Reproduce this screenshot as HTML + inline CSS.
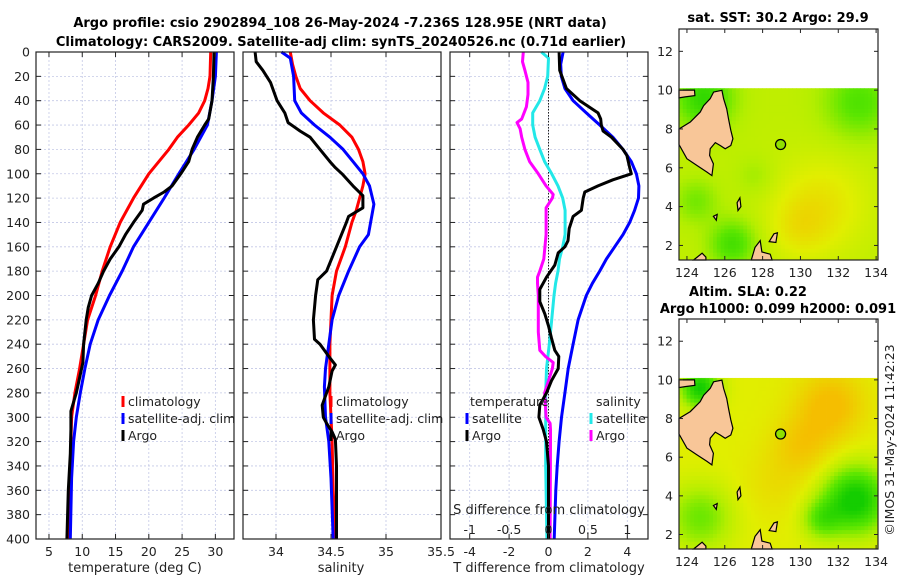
<!DOCTYPE html>
<html><head><meta charset="utf-8"><style>
body{margin:0;background:#fff;}
svg{display:block;font-family:"DejaVu Sans","Liberation Sans",sans-serif;}
</style></head><body>
<svg id="c" width="900" height="580" viewBox="0 0 900 580"></svg>
<script>
// ---- data ----
const depthT=[0,20,30,40,50,60,70,80,100,120,140,160,180,200,220,240,260,280,300,320,350,400];
const tempClim=[29.3,29.2,28.9,28.4,27.5,26,24.3,23,20,17.7,15.7,14.2,13,12,10.8,10.2,9.6,8.9,8.4,8.3,8.2,7.9];
const depthTB=[0,20,40,60,80,100,120,140,160,180,200,220,240,260,280,300,320,350,400];
const tempSat=[30.15,30,29.5,28.8,26.8,24.5,22.3,20,17.7,16,14.1,12.4,11.2,10.4,9.7,9.1,8.7,8.4,8.2];
const depthTA=[0,20,40,55,60,70,80,90,100,110,115,120,125,130,140,150,160,170,180,190,200,210,220,240,255,265,280,295,310,330,360,400];
const tempArgo=[29.8,29.7,29.5,29,28.4,27.3,26.5,26,24.8,23.5,22.3,20.7,19.2,19,17.7,16.5,15.5,14.2,13.2,12.4,11.4,10.9,10.6,10.2,10.1,9.7,9.1,8.3,8.3,8.2,7.9,7.7];
const depthSC=[0,10,20,30,40,50,60,70,80,90,100,110,120,130,140,160,180,200,240,280,300,320,360,400];
const salClim=[34.13,34.15,34.18,34.22,34.31,34.43,34.58,34.69,34.75,34.79,34.81,34.79,34.76,34.73,34.69,34.63,34.55,34.51,34.49,34.49,34.5,34.51,34.52,34.54];
const depthSB=[0,5,10,20,40,50,60,70,80,90,100,110,125,150,160,180,200,220,240,260,275,300,320,350,400];
const salSat=[34.05,34.13,34.14,34.16,34.17,34.23,34.35,34.49,34.61,34.7,34.79,34.85,34.89,34.84,34.76,34.66,34.57,34.51,34.48,34.45,34.44,34.45,34.48,34.5,34.52];
const depthSA=[0,8,15,25,40,50,58,65,70,80,90,95,100,110,118,128,135,140,160,180,187,200,220,236,240,250,257,262,275,290,300,305,312,318,340,360,400];
const salArgo=[33.81,33.82,33.88,33.95,34.01,34.08,34.11,34.22,34.31,34.4,34.49,34.54,34.6,34.7,34.79,34.79,34.66,34.64,34.55,34.46,34.38,34.36,34.34,34.35,34.4,34.48,34.54,34.51,34.48,34.42,34.43,34.46,34.51,34.54,34.55,34.55,34.55];
const depthDB=[0,10,20,30,40,50,60,70,80,90,100,110,120,130,140,150,160,170,180,190,200,220,240,260,280,300,320,340,360,400];
const tdiffSat=[0.74,0.62,0.65,0.83,1.25,1.92,2.6,3.27,3.78,4.2,4.46,4.59,4.57,4.37,4.12,3.78,3.36,2.94,2.6,2.23,1.92,1.5,1.25,1.0,0.83,0.66,0.54,0.44,0.37,0.29];
const depthDA=[0,15,30,40,50,55,60,65,70,80,85,95,100,105,110,115,120,130,135,145,155,160,165,175,185,195,205,215,225,235,245,250,260,270,280,290,300,310,320,340,400];
const tdiffArgo=[0.54,0.57,0.91,1.59,2.51,2.65,2.68,2.77,3.19,3.78,3.98,4.12,4.2,3.27,2.51,1.84,1.76,1.67,1.25,1.05,0.99,0.83,0.49,0.32,-0.1,-0.44,-0.44,-0.19,0,0.15,0.32,0.52,0.49,0.15,-0.1,-0.44,-0.49,-0.27,-0.1,0,0];
const depthSD=[0,5,20,30,40,50,60,70,80,90,100,110,120,130,140,150,160,170,180,190,200,220,240,260,280,300,340,400];
const sdiffSat=[-0.09,0,-0.01,-0.05,-0.11,-0.2,-0.2,-0.17,-0.11,-0.05,0.04,0.12,0.18,0.21,0.21,0.21,0.18,0.14,0.12,0.09,0.07,0.04,0.01,-0.025,-0.035,-0.035,-0.035,-0.02];
const depthSDA=[0,8,15,25,35,45,55,58,63,70,80,90,100,110,117,120,128,150,170,180,185,190,200,230,245,250,255,260,270,280,290,300,305,310,320,400];
const sdiffArgo=[-0.32,-0.33,-0.3,-0.26,-0.26,-0.28,-0.34,-0.4,-0.36,-0.34,-0.3,-0.24,-0.13,-0.03,0.06,0.05,-0.03,-0.03,-0.06,-0.11,-0.14,-0.14,-0.13,-0.13,-0.11,-0.04,0.06,0.05,0,-0.05,-0.04,-0.03,0.02,0.025,0.025,0.02];
const depthTicks=[0,20,40,60,80,100,120,140,160,180,200,220,240,260,280,300,320,340,360,380,400];
const tempTicks=[5,10,15,20,25,30];
const salTicks=[34,34.5,35,35.5];
const tdTicks=[-4,-2,0,2,4];
const sdTicks=[-1,-0.5,0,0.5,1];
const sdTickLabels=["-1","-0.5","0","0.5","1"];
const latTicks=[2,4,6,8,10,12];
const lonTicks=[124,126,128,130,132,134];
// map field blobs [lon,lat,radius,amplitude]
const sstBlobs=[[124.8,9.5,1.5,-1.0],[133.0,9.3,1.8,-0.7],[126.3,2.0,1.2,-0.8],[124.4,4.2,1.1,-0.45],[131,4,2.4,0.45],[129.8,2.8,1.5,0.3],[127.5,5.5,1.0,-0.2]];
const slaBlobs=[[131.5,8.6,1.8,0.65],[130,6.5,1.6,0.45],[132.8,3.7,1.7,-1.7],[131.0,2.7,1.0,-0.8],[124.6,9.5,1.0,-1.6],[124.6,2.8,1.7,-0.8],[128.5,4.5,1.8,0.2]];
const argoLon=128.95, argoLat=7.2;

// ---- helpers ----
const svg=document.getElementById('c');
const NS='http://www.w3.org/2000/svg';
function mk(tag,attrs,parent,txt){const e=document.createElementNS(NS,tag);for(const k in attrs)e.setAttribute(k,attrs[k]);if(txt!==undefined)e.textContent=txt;(parent||svg).appendChild(e);return e;}
const Y0=52,Y1=539;
const yD=d=>Y0+d*(Y1-Y0)/400;

function panel(name,x0,x1,dmin,dmax,ticks){
  const g=mk('g',{});
  
  
  const sx=v=>x0+(v-dmin)/(dmax-dmin)*(x1-x0);
  depthTicks.forEach(d=>{if(d>0&&d<400)mk('line',{x1:x0,x2:x1,y1:yD(d),y2:yD(d),stroke:'#c3c8e6','stroke-width':0.8,'stroke-dasharray':'2,2'},g);});
  ticks.forEach(t=>{const x=sx(t);if(x>x0+1&&x<x1-1)mk('line',{x1:x,x2:x,y1:Y0,y2:Y1,stroke:'#c3c8e6','stroke-width':0.8,'stroke-dasharray':'2,2'},g);});
  return {g,sx};
}
function frame(g,x0,x1,sx,ticks,labels){
  mk('rect',{x:x0,y:Y0,width:x1-x0,height:Y1-Y0,fill:'none',stroke:'#222','stroke-width':1.2},g);
  depthTicks.forEach(d=>{mk('line',{x1:x0,x2:x0+5,y1:yD(d),y2:yD(d),stroke:'#222'},g);mk('line',{x1:x1-5,x2:x1,y1:yD(d),y2:yD(d),stroke:'#222'},g);});
  ticks.forEach((t,i)=>{const x=sx(t);mk('line',{x1:x,x2:x,y1:Y1,y2:Y1-5,stroke:'#222'},g);mk('line',{x1:x,x2:x,y1:Y0,y2:Y0+5,stroke:'#222'},g);
    const tl=mk('text',{x:x,y:Y1+17,'font-size':12.5,'text-anchor':'middle',fill:'#222'},g,labels?labels[i]:String(t));
    });
}
function line(g,name,depths,vals,sx,color){
  const pts=depths.map((d,i)=>sx(vals[i]).toFixed(1)+','+yD(d).toFixed(1)).join(' ');
  const p=mk('polyline',{points:pts,fill:'none',stroke:color,'stroke-width':3,'stroke-linejoin':'round'},g);
  
}
function legendEntry(g,x,y,color,label){
  const e=mk('g',{},g);
  
  mk('line',{x1:x,x2:x,y1:y-10,y2:y+1,stroke:color,'stroke-width':3},e);
  mk('text',{x:x+5,y:y,'font-size':12.5,fill:'#222'},e,label);
}

// titles
let t=mk('text',{x:340,y:27,'font-size':13,'font-weight':'bold','text-anchor':'middle'},svg,'Argo profile: csio 2902894_108 26-May-2024 -7.236S 128.95E (NRT data)');

t=mk('text',{x:341,y:46,'font-size':13,'font-weight':'bold','text-anchor':'middle'},svg,'Climatology: CARS2009. Satellite-adj clim: synTS_20240526.nc (0.71d earlier)');


// depth labels
depthTicks.forEach(d=>{const e=mk('text',{x:30,y:yD(d)+4.5,'font-size':12.5,'text-anchor':'end',fill:'#222'},svg,String(d));
  });

// panel 1: temperature
let P=panel('temperature-panel',36,234,3.05,32.8,tempTicks);
line(P.g,'temp-climatology',depthT,tempClim,P.sx,'#ff0000');
line(P.g,'temp-satellite-adj',depthTB,tempSat,P.sx,'#0000ff');
line(P.g,'temp-argo',depthTA,tempArgo,P.sx,'#000000');
frame(P.g,36,234,P.sx,tempTicks);
legendEntry(P.g,123,406,'#ff0000','climatology');
legendEntry(P.g,123,423,'#0000ff','satellite-adj. clim');
legendEntry(P.g,123,440,'#000000','Argo');
t=mk('text',{x:135,y:572,'font-size':13,'text-anchor':'middle',fill:'#222'},svg,'temperature (deg C)');


// panel 2: salinity
P=panel('salinity-panel',243,441,33.7,35.5,salTicks);
line(P.g,'sal-climatology',depthSC,salClim,P.sx,'#ff0000');
line(P.g,'sal-satellite-adj',depthSB,salSat,P.sx,'#0000ff');
line(P.g,'sal-argo',depthSA,salArgo,P.sx,'#000000');
frame(P.g,243,441,P.sx,salTicks);
legendEntry(P.g,331,406,'#ff0000','climatology');
legendEntry(P.g,331,423,'#0000ff','satellite-adj. clim');
legendEntry(P.g,331,440,'#000000','Argo');
t=mk('text',{x:341,y:572,'font-size':13,'text-anchor':'middle',fill:'#222'},svg,'salinity');


// panel 3: differences
P=panel('difference-panel',450,648,-5,5.05,tdTicks);
const sxS=v=>P.sx(v*4);
mk('line',{x1:P.sx(0),x2:P.sx(0),y1:Y0,y2:Y1,stroke:'#222','stroke-width':1,'stroke-dasharray':'1.5,1.5'},P.g);
line(P.g,'sdiff-satellite',depthSD,sdiffSat,sxS,'#22e8e8');
line(P.g,'sdiff-argo',depthSDA,sdiffArgo,sxS,'#ff00ff');
line(P.g,'tdiff-satellite',depthDB,tdiffSat,P.sx,'#0000ff');
line(P.g,'tdiff-argo',depthDA,tdiffArgo,P.sx,'#000000');
frame(P.g,450,648,P.sx,tdTicks);
sdTicks.forEach((s,i)=>{const e=mk('text',{x:sxS(s),y:534,'font-size':12.5,'text-anchor':'middle',fill:'#222'},P.g,sdTickLabels[i]);
  });
t=mk('text',{x:549,y:514,'font-size':13,'text-anchor':'middle',fill:'#222'},P.g,'S difference from climatology');

t=mk('text',{x:549,y:572,'font-size':13,'text-anchor':'middle',fill:'#222'},svg,'T difference from climatology');

mk('text',{x:470,y:406,'font-size':12.5,fill:'#222'},P.g,'temperature');
mk('text',{x:596,y:406,'font-size':12.5,fill:'#222'},P.g,'salinity');
legendEntry(P.g,467,423,'#0000ff','satellite');
legendEntry(P.g,467,440,'#000000','Argo');
legendEntry(P.g,591,423,'#22e8e8','satellite');
legendEntry(P.g,591,440,'#ff00ff','Argo');

// ---- maps ----
const land=[
 [[125.41,9.9],[125.85,9.99],[125.94,9.56],[126.1,9.04],[126.2,8.5],[126.32,7.93],[126.43,7.5],[126.32,7.15],[126.02,6.98],[125.76,7.15],[125.5,7.3],[125.23,6.98],[125.2,6.64],[125.4,6.2],[125.32,5.6],[125.06,5.78],[124.53,6.12],[124,6.47],[123.58,7.2],[123.58,8.0],[124.18,8.36],[124.7,8.87],[124.88,9.2],[125.23,9.56]],
 [[123.58,10.0],[124.4,10.0],[124.42,9.72],[123.9,9.65],[123.58,9.6]],
 [[127.4,1.25],[127.6,1.9],[127.87,2.25],[127.96,1.66],[128.4,1.55],[128.5,1.25]],
 [[128.35,2.2],[128.6,2.6],[128.78,2.65],[128.7,2.15]],
 [[124.35,1.25],[124.8,1.6],[125.0,1.4],[125.0,1.25]],
 [[126.65,4.2],[126.8,4.45],[126.85,4.0],[126.7,3.8]],
 [[125.4,3.5],[125.6,3.6],[125.55,3.3]]
];
function colFor(v){
  const stops=[[-1.2,[20,205,0]],[-0.5,[90,230,0]],[0,[180,238,0]],[0.4,[225,238,0]],[1,[245,190,0]]];
  if(v<=stops[0][0])return 'rgb('+stops[0][1]+')';
  for(let i=1;i<stops.length;i++){if(v<=stops[i][0]){const a=stops[i-1],b=stops[i],f=(v-a[0])/(b[0]-a[0]);
    return 'rgb('+a[1].map((c,j)=>Math.round(c+(b[1][j]-c)*f)).join(',')+')';}}
  return 'rgb('+stops[stops.length-1][1]+')';
}
function map(name,y0,y1,blobs,base){
  const g=mk('g',{});
  
  const x0=679,x1=878,lo0=123.58,lo1=134.1,la0=1.25,la1=13.15;
  const sx=l=>x0+(l-lo0)/(lo1-lo0)*(x1-x0), sy=l=>y1-(l-la0)/(la1-la0)*(y1-y0);
  const step=0.2;
  for(let la=la0;la<10.1;la+=step){for(let lo=lo0;lo<lo1;lo+=step){
    let v=base;blobs.forEach(b=>{const dd=((lo-b[0])**2+(la-b[1])**2)/(b[2]*b[2]);v+=b[3]*Math.exp(-dd);});
    const top=Math.min(la+step,10.1);
    const lr=Math.min(lo+step,lo1);
    mk('rect',{x:sx(lo).toFixed(2),y:sy(top).toFixed(2),width:(sx(lr)-sx(lo)+0.4).toFixed(2),height:(sy(la)-sy(top)+0.4).toFixed(2),fill:colFor(v)},g);
  }}
  land.forEach(poly=>mk('polygon',{points:poly.map(p=>sx(p[0]).toFixed(1)+','+sy(p[1]).toFixed(1)).join(' '),fill:'#f8c698',stroke:'#000','stroke-width':1.2},g));
  const dot=mk('circle',{cx:sx(argoLon),cy:sy(argoLat),r:5,fill:'#8fe000',stroke:'#000','stroke-width':1.3},g);
  
  mk('rect',{x:x0,y:y0,width:x1-x0,height:y1-y0,fill:'none',stroke:'#222','stroke-width':1.2},g);
  latTicks.forEach(l=>{const y=sy(l);mk('line',{x1:x0,x2:x0+4,y1:y,y2:y,stroke:'#222'},g);mk('line',{x1:x1-4,x2:x1,y1:y,y2:y,stroke:'#222'},g);
    const e=mk('text',{x:x0-6,y:y+4.5,'font-size':12.5,'text-anchor':'end',fill:'#222'},g,String(l));});
  lonTicks.forEach(l=>{const x=sx(l);mk('line',{x1:x,x2:x,y1:y1,y2:y1-4,stroke:'#222'},g);mk('line',{x1:x,x2:x,y1:y0,y2:y0+4,stroke:'#222'},g);
    const e=mk('text',{x:x,y:y1+17,'font-size':12.5,'text-anchor':'middle',fill:'#222'},g,String(l));});
}
map('sst-map',29,260,sstBlobs,0.1);
map('sla-map',319,549,slaBlobs,0.4);
t=mk('text',{x:778,y:22,'font-size':13,'font-weight':'bold','text-anchor':'middle'},svg,'sat. SST: 30.2 Argo: 29.9');

t=mk('text',{x:748,y:296,'font-size':13,'font-weight':'bold','text-anchor':'middle'},svg,'Altim. SLA: 0.22');

t=mk('text',{x:778,y:313,'font-size':13,'font-weight':'bold','text-anchor':'middle'},svg,'Argo h1000: 0.099 h2000: 0.091');

t=mk('text',{x:0,y:0,'font-size':12.5,'text-anchor':'middle',fill:'#222',transform:'translate(894,440) rotate(-90)'},svg,'©IMOS 31-May-2024 11:42:23');

</script>
</body></html>
